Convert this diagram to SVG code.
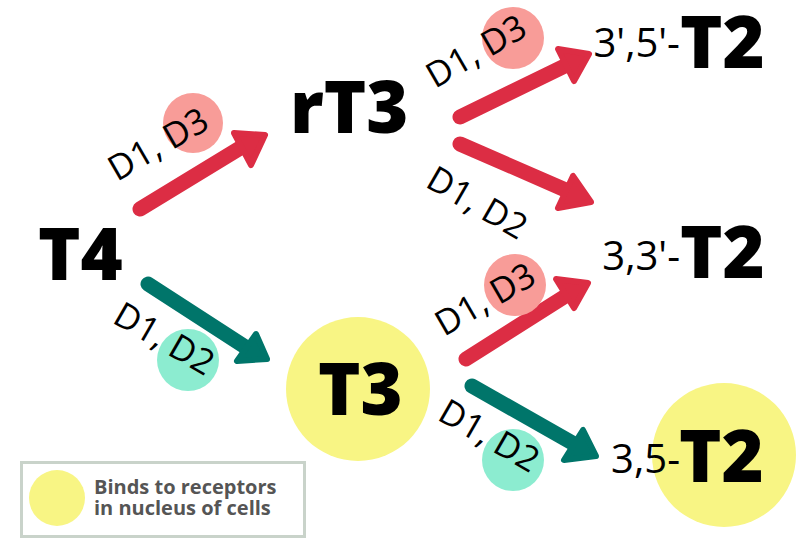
<svg xmlns="http://www.w3.org/2000/svg" width="798" height="538" viewBox="0 0 798 538">
<style>
.big{font-family:"Open Sans","DejaVu Sans",sans-serif;font-weight:800;font-size:72px;fill:#000}
.sm{font-family:"Open Sans","DejaVu Sans",sans-serif;font-size:40px;fill:#000}
.lab{font-family:"Open Sans","DejaVu Sans",sans-serif;font-size:35px;fill:#000}
.leg{font-family:"Open Sans","DejaVu Sans",sans-serif;font-weight:700;font-size:20px;fill:#555}
.red line{stroke:#dc2d44}
.red polygon{fill:#dc2d44;stroke:#dc2d44}
.teal line{stroke:#00756a}
.teal polygon{fill:#00756a;stroke:#00756a}
line{stroke-width:15;stroke-linecap:round}
polygon{stroke-width:6;stroke-linejoin:round}
.yc{fill:#f8f584}
.pc{fill:#f89c98}
.mc{fill:#8cecd0}
</style>
<rect width="798" height="538" fill="#fff"/>
<g id="legend">
<rect x="21.5" y="462.5" width="283" height="74" fill="#fff" stroke="#c9d3ca" stroke-width="3"/>
<circle class="yc" cx="57" cy="498" r="28"/>
<text class="leg" x="94" y="494">Binds to receptors</text>
<text class="leg" x="94" y="515">in nucleus of cells</text>
</g>
<g id="node-T3"><circle class="yc" cx="358" cy="389" r="72"/><text class="big" x="318" y="415">T3</text></g>
<g id="node-35T2"><circle class="yc" cx="724" cy="455" r="72"/><text class="sm" x="680" y="473" text-anchor="end">3,5-</text><text class="big" x="679" y="482">T2</text></g>
<g id="node-T4"><text class="big" x="38" y="280">T4</text></g>
<g id="node-rT3"><text class="big" x="290" y="133">rT3</text></g>
<g id="node-3p5pT2"><text class="sm" x="680" y="57" text-anchor="end">3',5'-</text><text class="big" x="680" y="68">T2</text></g>
<g id="node-33pT2"><text class="sm" x="680" y="270" text-anchor="end">3,3'-</text><text class="big" x="680" y="278">T2</text></g>
<g id="connectors">
<g class="red"><line x1="140" y1="209" x2="250" y2="142"/><polygon points="265,135 234,133 251,165"/></g>
<g class="red"><line x1="460" y1="117" x2="575" y2="61"/><polygon points="589,54 558,49 574,81"/></g>
<g class="red"><line x1="460" y1="144" x2="577" y2="195"/><polygon points="591,202 573,176 558,208"/></g>
<g class="teal"><line x1="148" y1="284" x2="253" y2="352"/><polygon points="267,359 256,334 237,361"/></g>
<g class="red"><line x1="466" y1="359" x2="575" y2="290"/><polygon points="588,283 556,279 574,308"/></g>
<g class="teal"><line x1="472" y1="386" x2="583" y2="449"/><polygon points="596,456 583,430 564,460"/></g>
</g>
<g id="labels">
<circle class="pc" cx="193" cy="123" r="30"/>
<text class="lab" transform="translate(117,182) rotate(-30)">D1, D3</text>
<circle class="pc" cx="513" cy="38" r="31"/>
<text class="lab" transform="translate(435,89) rotate(-30)">D1, D3</text>
<text class="lab" transform="translate(424,186) rotate(30)">D1, D2</text>
<circle class="mc" cx="188" cy="360" r="31"/>
<text class="lab" transform="translate(111,322) rotate(30)">D1, D2</text>
<circle class="pc" cx="515" cy="285" r="31"/>
<text class="lab" transform="translate(444,337) rotate(-30)">D1, D3</text>
<circle class="mc" cx="513" cy="460" r="31"/>
<text class="lab" transform="translate(436,419) rotate(30)">D1, D2</text>
</g>
</svg>
